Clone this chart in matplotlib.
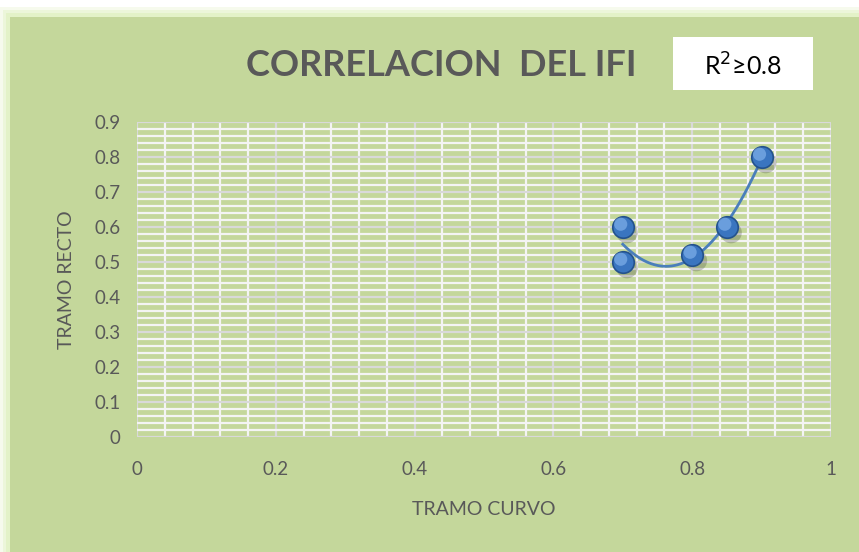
import numpy as np
import matplotlib
matplotlib.use("Agg")
import matplotlib.pyplot as plt
from matplotlib.patches import Rectangle
from matplotlib.ticker import MultipleLocator
import matplotlib.transforms as mtransforms

plt.rcParams['font.family'] = ['Lato', 'DejaVu Sans']

tramo_curvo = [0.7, 0.7, 0.8, 0.85, 0.9]
tramo_recto = [0.6, 0.5, 0.52, 0.6, 0.8]
title = "CORRELACION  DEL IFI"
r2_label = "R$^{\\mathsf{2}}$≥0.8"

GREEN = '#c4d79b'
GREY = '#595959'

fig = plt.figure(figsize=(8.59, 5.52), dpi=100)
fig.patch.set_facecolor('white')
# glow + panel
for pad, a in [(10, 0.25), (7, 0.35), (4, 0.5)]:
    fig.patches.append(Rectangle(((10 - pad) / 859, -0.05), 1.1, (552 - 17 + pad) / 552 + 0.05,
                                 transform=fig.transFigure, facecolor='#dcefb8', alpha=a,
                                 edgecolor='none', zorder=-10))
fig.patches.append(Rectangle((10 / 859, -0.05), 1.1, (552 - 17) / 552 + 0.05,
                             transform=fig.transFigure, facecolor=GREEN,
                             edgecolor='none', zorder=-9))

ax = fig.add_axes([137 / 859, (552 - 437) / 552, (831 - 137) / 859, (437 - 122) / 552])
ax.set_zorder(1)
ax.set_facecolor(GREEN)
ax.set_xlim(0, 1)
ax.set_ylim(0, 0.9)
ax.xaxis.set_major_locator(MultipleLocator(0.2))
ax.xaxis.set_minor_locator(MultipleLocator(0.04))
ax.yaxis.set_major_locator(MultipleLocator(0.1))
ax.yaxis.set_minor_locator(MultipleLocator(0.02))
ax.grid(which='minor', color='#f4f4f4', lw=1.6, zorder=1)
ax.grid(which='major', color='#d9d9d9', lw=1.6, zorder=1.5)
ax.set_axisbelow(True)
for s in ax.spines.values():
    s.set_visible(False)
ax.tick_params(which='both', length=0, colors=GREY, labelsize=13.5)
ax.tick_params(axis='x', pad=17)
ax.tick_params(axis='y', pad=12)
ax.set_xticks(np.arange(0, 1.01, 0.2))
ax.set_xticklabels(['0', '0.2', '0.4', '0.6', '0.8', '1'])
ax.set_yticks(np.arange(0, 0.91, 0.1))
ax.set_yticklabels(['0'] + [f'{v:.1f}' for v in np.arange(0.1, 0.91, 0.1)])

ax.set_xlabel('TRAMO CURVO', color=GREY, fontsize=14, labelpad=17)
ax.set_ylabel('TRAMO RECTO', color=GREY, fontsize=14, labelpad=14)

# trendline (polynomial order 2)
coef = np.polyfit(tramo_curvo, tramo_recto, 2)
xs = np.linspace(min(tramo_curvo), max(tramo_curvo), 200)
ax.plot(xs, np.polyval(coef, xs), color='#4a7ebb', lw=2, zorder=3)

# markers with shadow and highlight
shadow = mtransforms.offset_copy(ax.transData, fig=fig, x=3, y=-4, units='points')
ax.scatter(tramo_curvo, tramo_recto, s=240, color='#333333', alpha=0.25, transform=shadow,
           edgecolors='none', zorder=3.5)
ax.scatter(tramo_curvo, tramo_recto, s=240, color='#3a75c0', edgecolors='#24528c',
           linewidths=1.2, zorder=4)
hl = mtransforms.offset_copy(ax.transData, fig=fig, x=-1.5, y=2, units='points')
ax.scatter(tramo_curvo, tramo_recto, s=90, color='#7fb0ea', alpha=0.7, transform=hl,
           edgecolors='none', zorder=5)

fig.text(441 / 859, 1 - 65 / 552, title, ha='center', va='center', fontsize=26,
         fontweight='bold', color=GREY, zorder=5)
fig.patches.append(Rectangle((673 / 859, 1 - 90 / 552), 140 / 859, 53 / 552,
                             transform=fig.transFigure, facecolor='white',
                             edgecolor='none', zorder=5))
fig.text(743 / 859, 1 - 66 / 552, r2_label, ha='center', va='center', fontsize=18,
         color='black', zorder=6)

fig.savefig('out.png', dpi=100, facecolor=fig.get_facecolor())
